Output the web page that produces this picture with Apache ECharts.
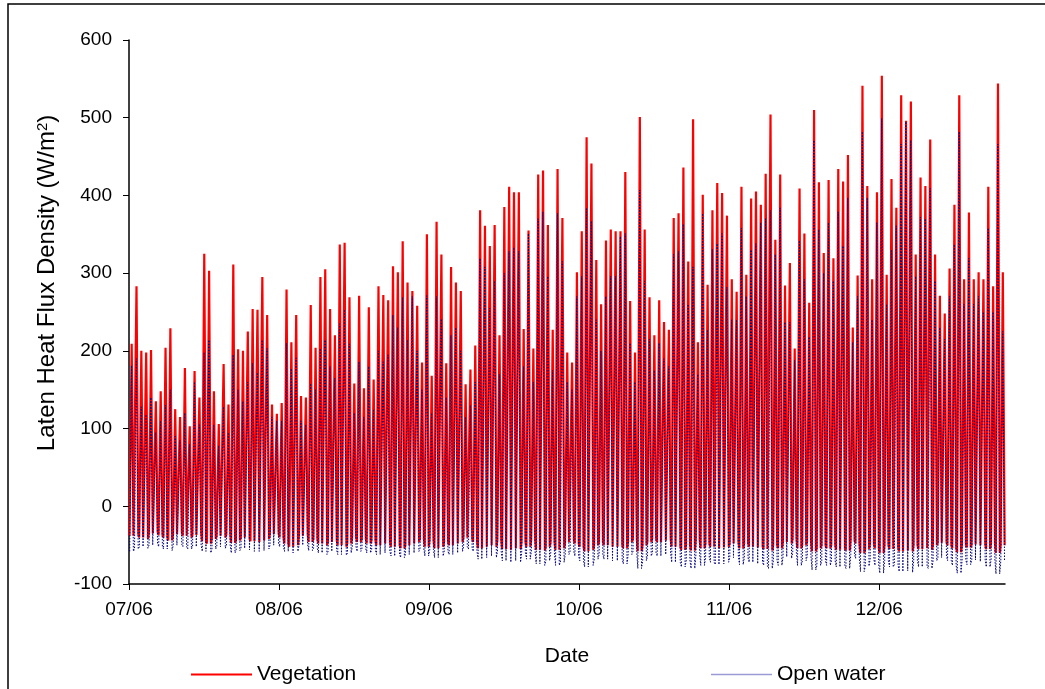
<!DOCTYPE html>
<html>
<head>
<meta charset="utf-8">
<script src="https://cdn.jsdelivr.net/npm/echarts@6/dist/echarts.min.js"></script>
<style>
  html, body { margin: 0; padding: 0; background: #ffffff; }
  #chart { width: 1045px; height: 689px; }
</style>
</head>
<body>
<div id="chart"></div>
<script>
// Month tick labels and their position in days since 1 July 2006
const monthLabels = ['07/06', '08/06', '09/06', '10/06', '11/06', '12/06'];
const monthTickDays = [0, 31, 62, 93, 124, 155];

// Daily midday maximum latent heat flux, Vegetation (W/m2)
const vegPeakJul = [209, 283, 200, 198, 201, 135, 148, 204, 229, 125, 115, 178, 103, 174, 140, 325, 303, 148, 106, 183, 131, 311, 202, 200, 225, 254, 253, 295, 246, 131, 119];
const vegPeakAug = [133, 279, 211, 246, 142, 140, 259, 204, 295, 305, 254, 220, 337, 339, 269, 158, 271, 152, 256, 163, 283, 272, 265, 309, 301, 341, 288, 277, 258, 185, 350];
const vegPeakSep = [168, 366, 324, 184, 308, 288, 277, 157, 176, 207, 381, 361, 335, 362, 220, 385, 411, 404, 404, 228, 355, 203, 427, 432, 362, 227, 434, 371, 198, 185];
const vegPeakOct = [301, 354, 475, 441, 317, 260, 342, 356, 354, 354, 430, 264, 198, 501, 356, 269, 220, 265, 237, 227, 371, 377, 436, 315, 498, 211, 401, 285, 381, 416, 403];
const vegPeakNov = [374, 292, 276, 411, 298, 396, 405, 388, 428, 504, 343, 427, 284, 313, 203, 409, 351, 262, 510, 417, 326, 420, 319, 434, 418, 452, 230, 297, 541, 412];
const vegPeakDec = [292, 404, 554, 298, 421, 384, 529, 496, 521, 324, 423, 412, 472, 324, 271, 248, 306, 388, 529, 292, 378, 292, 301, 292, 411, 283, 544, 301];

// Night-time minimum, Vegetation (W/m2)
const vegMinJul = [-38, -36, -40, -42, -35, -33, -37, -40, -44, -36, -34, -38, -40, -37, -35, -45, -48, -42, -38, -40, -36, -47, -44, -40, -42, -45, -46, -44, -42, -36, -35];
const vegMinAug = [-40, -48, -52, -50, -38, -36, -46, -42, -48, -50, -46, -44, -50, -52, -48, -40, -46, -42, -48, -44, -50, -48, -46, -52, -50, -54, -50, -48, -46, -42, -52];
const vegMinSep = [-44, -54, -52, -46, -50, -48, -46, -40, -42, -46, -54, -52, -50, -52, -44, -55, -56, -54, -55, -46, -52, -44, -56, -57, -52, -46, -56, -54, -46, -44];
const vegMinOct = [-48, -52, -58, -56, -50, -46, -50, -52, -52, -50, -54, -46, -42, -58, -50, -46, -42, -46, -44, -42, -52, -52, -56, -50, -57, -44, -54, -48, -52, -54, -53];
const vegMinNov = [-52, -48, -46, -54, -48, -52, -53, -52, -55, -57, -50, -54, -46, -48, -42, -54, -50, -46, -58, -54, -50, -54, -50, -56, -54, -57, -44, -48, -60, -55];
const vegMinDec = [-48, -54, -60, -50, -55, -53, -58, -57, -58, -50, -55, -54, -56, -50, -47, -46, -50, -54, -59, -49, -53, -49, -50, -49, -55, -48, -60, -50];

// Daily midday maximum latent heat flux, Open water (W/m2)
const waterPeakJul = [181, 190, 128, 118, 140, 95, 110, 130, 150, 90, 85, 120, 80, 160, 105, 198, 214, 105, 78, 128, 95, 195, 150, 135, 160, 184, 172, 214, 203, 115, 110];
const waterPeakAug = [110, 210, 177, 191, 110, 105, 158, 150, 203, 214, 180, 165, 235, 253, 209, 120, 186, 115, 180, 125, 200, 186, 195, 246, 230, 269, 214, 270, 200, 150, 271];
const waterPeakSep = [120, 270, 241, 140, 220, 230, 200, 115, 130, 160, 319, 308, 255, 290, 170, 300, 328, 333, 328, 180, 351, 160, 370, 379, 296, 175, 377, 315, 160, 150];
const waterPeakOct = [270, 296, 384, 367, 240, 200, 270, 296, 296, 347, 351, 210, 160, 407, 290, 215, 175, 210, 190, 180, 324, 328, 363, 260, 308, 170, 377, 227, 331, 338, 351];
const waterPeakNov = [282, 240, 240, 358, 270, 330, 338, 365, 370, 381, 324, 384, 237, 237, 188, 342, 292, 218, 471, 356, 300, 365, 290, 379, 335, 397, 211, 270, 482, 397];
const waterPeakDec = [240, 365, 499, 260, 330, 361, 466, 495, 471, 296, 372, 370, 409, 290, 230, 215, 270, 337, 482, 260, 319, 260, 270, 250, 358, 250, 466, 225];

// Night-time minimum, Open water (W/m2)
const waterMinJul = [-58, -55, -52, -54, -50, -48, -52, -55, -57, -50, -49, -52, -55, -52, -50, -58, -60, -55, -52, -54, -50, -60, -57, -54, -56, -58, -58, -57, -55, -50, -48];
const waterMinAug = [-52, -58, -60, -58, -50, -49, -57, -54, -60, -62, -58, -56, -62, -63, -60, -52, -58, -54, -60, -56, -62, -60, -58, -64, -62, -66, -62, -60, -58, -54, -64];
const waterMinSep = [-56, -66, -64, -58, -62, -60, -58, -52, -55, -58, -68, -66, -64, -66, -58, -70, -72, -70, -72, -60, -68, -58, -74, -76, -70, -60, -76, -72, -62, -58];
const waterMinOct = [-64, -70, -78, -76, -68, -62, -68, -70, -70, -68, -74, -62, -58, -80, -70, -64, -60, -64, -62, -60, -72, -72, -78, -70, -80, -62, -76, -66, -72, -75, -74];
const waterMinNov = [-72, -66, -64, -75, -66, -72, -74, -72, -76, -80, -70, -76, -65, -67, -60, -76, -70, -64, -82, -76, -70, -76, -70, -78, -76, -80, -62, -67, -84, -77];
const waterMinDec = [-68, -76, -86, -70, -78, -75, -84, -83, -85, -70, -78, -77, -80, -70, -66, -64, -70, -76, -86, -69, -75, -69, -71, -69, -78, -68, -87, -70];

const vegPeak = [].concat(vegPeakJul, vegPeakAug, vegPeakSep, vegPeakOct, vegPeakNov, vegPeakDec);
const vegMin = [].concat(vegMinJul, vegMinAug, vegMinSep, vegMinOct, vegMinNov, vegMinDec);
const waterPeak = [].concat(waterPeakJul, waterPeakAug, waterPeakSep, waterPeakOct, waterPeakNov, waterPeakDec);
const waterMin = [].concat(waterMinJul, waterMinAug, waterMinSep, waterMinOct, waterMinNov, waterMinDec);

// One daily cycle per day: night level, midday peak, night level again
function dailyCycle(peaks, mins, rise, peakTime, fall) {
  const pts = [];
  for (let d = 0; d < peaks.length; d++) {
    pts.push([d + rise, mins[d]]);
    pts.push([d + peakTime, peaks[d]]);
    pts.push([d + fall, mins[d]]);
  }
  return pts;
}

const FONT = "'Liberation Sans', Arial, sans-serif";
const chart = echarts.init(document.getElementById('chart'), null, { renderer: 'canvas' });

chart.setOption({
  animation: false,
  backgroundColor: '#ffffff',
  grid: { left: 129, right: 40, top: 40, bottom: 105 },
  xAxis: {
    type: 'value',
    min: 0,
    max: 181,
    interval: 31,
    name: 'Date',
    nameLocation: 'middle',
    nameGap: 62,
    nameTextStyle: { fontFamily: FONT, fontSize: 21, color: '#000' },
    axisLine: { onZero: false, lineStyle: { color: '#000', width: 1.5 } },
    axisTick: { show: true, length: 6, inside: false, customValues: monthTickDays, lineStyle: { color: '#000', width: 1 } },
    axisLabel: {
      customValues: monthTickDays,
      margin: 16,
      fontFamily: FONT, fontSize: 19, color: '#000',
      formatter: function (v) {
        const i = monthTickDays.indexOf(Math.round(v));
        return i >= 0 ? monthLabels[i] : '';
      }
    },
    splitLine: { show: false }
  },
  yAxis: {
    type: 'value',
    min: -100,
    max: 600,
    interval: 100,
    axisLine: { show: true, onZero: false, lineStyle: { color: '#000', width: 1.5 } },
    axisTick: { show: true, length: 6, inside: false, lineStyle: { color: '#000', width: 1 } },
    axisLabel: { margin: 17, fontFamily: FONT, fontSize: 19, color: '#000' },
    splitLine: { show: false }
  },
  legend: [
    {
      data: ['Vegetation'],
      left: 186, top: 659,
      icon: 'rect',
      itemWidth: 61, itemHeight: 2, itemGap: 0,
      itemStyle: { color: '#ff0000' },
      textStyle: { fontFamily: FONT, fontSize: 21, color: '#000' }
    },
    {
      data: ['Open water'],
      left: 706, top: 659,
      icon: 'rect',
      itemWidth: 61, itemHeight: 1.5, itemGap: 0,
      itemStyle: { color: '#9a9ad6' },
      textStyle: { fontFamily: FONT, fontSize: 21, color: '#000' }
    }
  ],
  graphic: [
    {
      type: 'rect',
      shape: { x: 8, y: 4, width: 1100, height: 800 },
      style: { fill: 'none', stroke: '#000', lineWidth: 1.5 },
      silent: true
    },
    {
      type: 'text',
      x: 47, y: 283,
      rotation: Math.PI / 2,
      style: {
        text: 'Laten Heat Flux Density (W/m{sup|2})',
        fontFamily: FONT, fontSize: 24, fill: '#000',
        align: 'center', verticalAlign: 'middle',
        rich: { sup: { fontFamily: FONT, fontSize: 15, verticalAlign: 'top', fill: '#000' } }
      },
      silent: true
    }
  ],
  series: [
    {
      name: 'Vegetation',
      type: 'line',
      data: dailyCycle(vegPeak, vegMin, 0.1, 0.55, 0.93),
      showSymbol: false,
      symbol: 'none',
      lineStyle: { color: '#ff0000', width: 2.2 },
      itemStyle: { color: '#ff0000' },
      z: 2
    },
    {
      name: 'Open water',
      type: 'line',
      data: dailyCycle(waterPeak, waterMin, 0.14, 0.52, 0.9),
      showSymbol: false,
      symbol: 'none',
      lineStyle: { color: '#000080', width: 1, type: [1.5, 1.5] },
      itemStyle: { color: '#000080' },
      z: 3
    }
  ]
});
</script>
</body>
</html>
